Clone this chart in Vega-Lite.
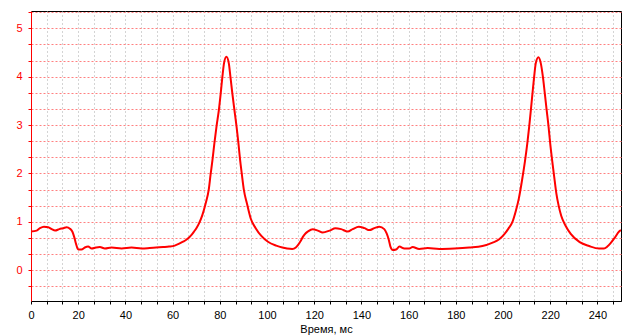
{
  "$schema": "https://vega.github.io/schema/vega-lite/v6.json",
  "autosize": "none",
  "width": 590,
  "height": 290,
  "padding": {"left": 31, "top": 11, "right": 11, "bottom": 35},
  "background": "white",
  "config": {
    "view": {"stroke": "black", "strokeWidth": 1},
    "axis": {"labelFont": "Liberation Sans", "titleFont": "Liberation Sans", "labelFontSize": 11, "titleFontSize": 11, "titleFontWeight": "normal"}
  },
  "data": {"values": [
    {"t": 0, "v": 0.80}, {"t": 2.4, "v": 0.82}, {"t": 3.8, "v": 0.87}, {"t": 5.5, "v": 0.90}, {"t": 7.3, "v": 0.89},
    {"t": 8.8, "v": 0.85}, {"t": 10.2, "v": 0.82}, {"t": 12.0, "v": 0.85}, {"t": 13.7, "v": 0.87}, {"t": 15.1, "v": 0.89},
    {"t": 16.5, "v": 0.86}, {"t": 17.5, "v": 0.80}, {"t": 18.3, "v": 0.69}, {"t": 19.0, "v": 0.56}, {"t": 20.0, "v": 0.43},
    {"t": 21.4, "v": 0.43}, {"t": 22.8, "v": 0.47}, {"t": 24.2, "v": 0.49}, {"t": 25.7, "v": 0.45}, {"t": 27.5, "v": 0.47},
    {"t": 29.2, "v": 0.48}, {"t": 31.3, "v": 0.45}, {"t": 34.1, "v": 0.47}, {"t": 38.4, "v": 0.45}, {"t": 42.6, "v": 0.47},
    {"t": 46.9, "v": 0.45}, {"t": 50.3, "v": 0.46}, {"t": 53, "v": 0.47}, {"t": 56, "v": 0.48}, {"t": 58.5, "v": 0.49},
    {"t": 60.9, "v": 0.51}, {"t": 62.8, "v": 0.55}, {"t": 64.4, "v": 0.59}, {"t": 65.8, "v": 0.63}, {"t": 67.0, "v": 0.68},
    {"t": 68.2, "v": 0.74}, {"t": 69.1, "v": 0.80}, {"t": 70.2, "v": 0.88}, {"t": 71.2, "v": 0.97}, {"t": 72.6, "v": 1.14},
    {"t": 74.0, "v": 1.38}, {"t": 75.3, "v": 1.66}, {"t": 76.1, "v": 1.98}, {"t": 76.9, "v": 2.28}, {"t": 77.7, "v": 2.62},
    {"t": 78.6, "v": 2.97}, {"t": 79.6, "v": 3.31}, {"t": 80.4, "v": 3.66}, {"t": 81.1, "v": 4.0}, {"t": 81.8, "v": 4.28},
    {"t": 82.8, "v": 4.41}, {"t": 83.8, "v": 4.28}, {"t": 84.5, "v": 4.0}, {"t": 85.3, "v": 3.66}, {"t": 86.2, "v": 3.31},
    {"t": 87.1, "v": 2.97}, {"t": 87.9, "v": 2.62}, {"t": 88.6, "v": 2.28}, {"t": 89.3, "v": 2.0}, {"t": 90.2, "v": 1.66},
    {"t": 91.5, "v": 1.38}, {"t": 93.1, "v": 1.07}, {"t": 95.2, "v": 0.87}, {"t": 97.6, "v": 0.71}, {"t": 100.4, "v": 0.59},
    {"t": 103.9, "v": 0.51}, {"t": 106.5, "v": 0.47}, {"t": 108.5, "v": 0.45}, {"t": 110.7, "v": 0.44}, {"t": 112.2, "v": 0.47},
    {"t": 113.1, "v": 0.52}, {"t": 114.2, "v": 0.60}, {"t": 115.2, "v": 0.69}, {"t": 116.3, "v": 0.76}, {"t": 117.3, "v": 0.80},
    {"t": 119.4, "v": 0.85}, {"t": 121.5, "v": 0.82}, {"t": 123.6, "v": 0.78}, {"t": 126.5, "v": 0.82}, {"t": 129, "v": 0.87},
    {"t": 131.4, "v": 0.85}, {"t": 134.2, "v": 0.80}, {"t": 136.3, "v": 0.85}, {"t": 138.9, "v": 0.90}, {"t": 141.3, "v": 0.87},
    {"t": 143.4, "v": 0.83}, {"t": 145.5, "v": 0.87}, {"t": 147.6, "v": 0.90}, {"t": 149.7, "v": 0.85}, {"t": 150.7, "v": 0.76},
    {"t": 151.6, "v": 0.63}, {"t": 152.3, "v": 0.49}, {"t": 153.3, "v": 0.42}, {"t": 154.7, "v": 0.43}, {"t": 156.1, "v": 0.49},
    {"t": 158.2, "v": 0.45}, {"t": 160.3, "v": 0.45}, {"t": 161.7, "v": 0.48}, {"t": 164.5, "v": 0.44}, {"t": 168.1, "v": 0.46},
    {"t": 173, "v": 0.44}, {"t": 179.4, "v": 0.45}, {"t": 185.7, "v": 0.47}, {"t": 191.3, "v": 0.50}, {"t": 195.6, "v": 0.57},
    {"t": 198.4, "v": 0.64}, {"t": 200.5, "v": 0.74}, {"t": 202.3, "v": 0.86}, {"t": 204.0, "v": 1.00}, {"t": 205.4, "v": 1.22},
    {"t": 206.7, "v": 1.48}, {"t": 208.1, "v": 1.87}, {"t": 209.3, "v": 2.25}, {"t": 210.3, "v": 2.62}, {"t": 211.1, "v": 2.97},
    {"t": 211.8, "v": 3.31}, {"t": 212.5, "v": 3.66}, {"t": 213.2, "v": 4.0}, {"t": 213.9, "v": 4.28}, {"t": 215.0, "v": 4.40},
    {"t": 216.0, "v": 4.28}, {"t": 216.9, "v": 4.0}, {"t": 217.7, "v": 3.66}, {"t": 218.5, "v": 3.31}, {"t": 219.3, "v": 2.97},
    {"t": 220.0, "v": 2.62}, {"t": 220.8, "v": 2.28}, {"t": 221.7, "v": 1.93}, {"t": 222.6, "v": 1.59}, {"t": 223.6, "v": 1.33},
    {"t": 224.7, "v": 1.12}, {"t": 226.4, "v": 0.93}, {"t": 228.7, "v": 0.75}, {"t": 232.5, "v": 0.58}, {"t": 236.5, "v": 0.50},
    {"t": 240.7, "v": 0.45}, {"t": 242.8, "v": 0.45}, {"t": 244.2, "v": 0.49}, {"t": 245.6, "v": 0.56}, {"t": 247.3, "v": 0.67},
    {"t": 249.2, "v": 0.80}, {"t": 250, "v": 0.83}
  ]},
  "mark": {"type": "line", "color": "#ff0000", "strokeWidth": 2, "clip": true, "interpolate": "monotone"},
  "encoding": {
    "x": {
      "field": "t", "type": "quantitative",
      "scale": {"domain": [0, 250], "nice": false, "zero": false},
      "axis": {
        "title": "Время, мс",
        "titleColor": "black",
        "titlePadding": 3,
        "values": [0, 6.667, 13.333, 20, 26.667, 33.333, 40, 46.667, 53.333, 60, 66.667, 73.333, 80, 86.667, 93.333, 100, 106.667, 113.333, 120, 126.667, 133.333, 140, 146.667, 153.333, 160, 166.667, 173.333, 180, 186.667, 193.333, 200, 206.667, 213.333, 220, 226.667, 233.333, 240, 246.667],
        "labelExpr": "abs(datum.value / 20 - round(datum.value / 20)) < 0.01 ? format(round(datum.value), 'd') : ''",
        "labelColor": "black",
        "labelPadding": 5,
        "labelFlush": false,
        "domainColor": "black",
        "tickColor": "black",
        "tickSize": 3,
        "grid": true,
        "gridColor": "#a8a8a8",
        "gridDash": [1, 3],
        "gridOpacity": 1
      }
    },
    "y": {
      "field": "v", "type": "quantitative",
      "scale": {"domain": [-0.635, 5.357], "nice": false, "zero": false},
      "axis": {
        "title": null,
        "values": [-0.3333, 0, 0.3333, 0.6667, 1, 1.3333, 1.6667, 2, 2.3333, 2.6667, 3, 3.3333, 3.6667, 4, 4.3333, 4.6667, 5, 5.3333],
        "labelExpr": "abs(datum.value - round(datum.value)) < 0.01 ? format(round(datum.value), 'd') : ''",
        "labelColor": "#ff0000",
        "labelPadding": 6,
        "labelFlush": false,
        "domainColor": "#ff0000",
        "tickColor": "#ff0000",
        "tickSize": 3,
        "grid": true,
        "gridColor": "#ff8080",
        "gridDash": [2, 2],
        "gridOpacity": 1
      }
    }
  }
}
